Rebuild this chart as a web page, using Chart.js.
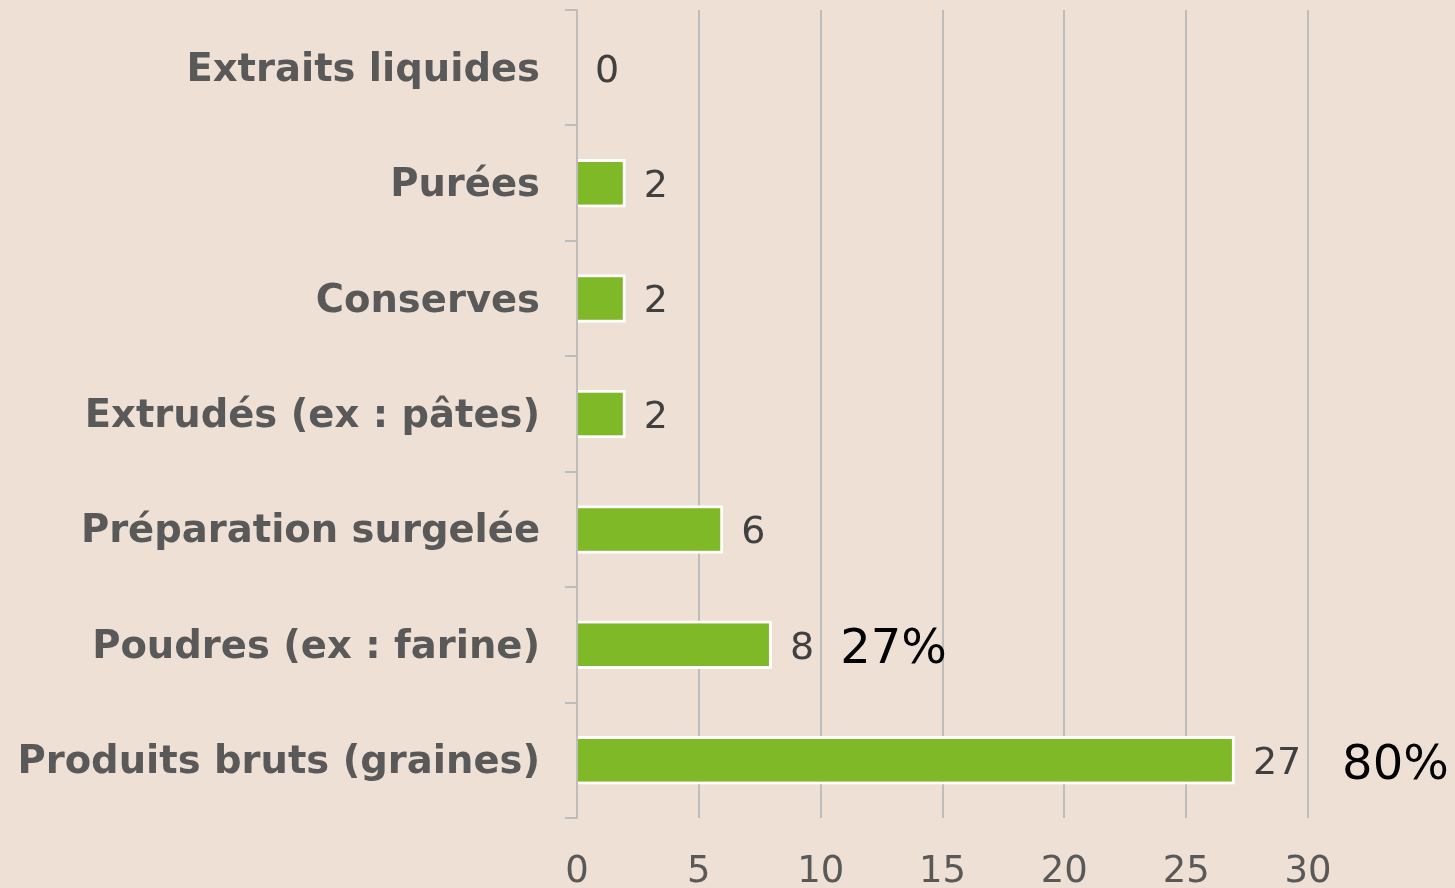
<!DOCTYPE html>
<html>
<head>
<meta charset="utf-8">
<script src="https://cdn.jsdelivr.net/npm/chart.js@4"></script>
<style>
  html, body { margin: 0; padding: 0; background: #EEE0D4; }
  #wrap { width: 1455px; height: 888px; position: relative; }
</style>
</head>
<body>
<div id="wrap"><canvas id="c" width="1455" height="888"></canvas></div>
<script>
const categories = [
  'Extraits liquides',
  'Purées',
  'Conserves',
  'Extrudés (ex : pâtes)',
  'Préparation surgelée',
  'Poudres (ex : farine)',
  'Produits bruts (graines)'
];
const values = [0, 2, 2, 2, 6, 8, 27];
const xTicks = [0, 5, 10, 15, 20, 25, 30];
const shareLabels = ['27%', '80%'];
const shareCategories = ['Poudres (ex : farine)', 'Produits bruts (graines)'];
const shareXValues = [10.8, 31.4];

const FONT = "'DejaVu Sans', Verdana, sans-serif";

const labelPlugin = {
  id: 'labels',
  afterDatasetsDraw(chart) {
    const ctx = chart.ctx;
    const xs = chart.scales.x, ys = chart.scales.y;
    ctx.save();
    ctx.font = '38px ' + FONT;
    ctx.fillStyle = '#404040';
    ctx.textAlign = 'left';
    ctx.textBaseline = 'middle';
    const meta = chart.getDatasetMeta(0);
    meta.data.forEach((bar, i) => {
      const x = xs.getPixelForValue(values[i]) + 18;
      ctx.fillText(String(values[i]), x, bar.y + 4);
    });
    ctx.font = '48px ' + FONT;
    ctx.fillStyle = '#000000';
    shareLabels.forEach((t, i) => {
      const idx = categories.indexOf(shareCategories[i]);
      const y = ys.getPixelForValue(idx);
      ctx.fillText(t, xs.getPixelForValue(shareXValues[i]), y + 6);
    });
    ctx.restore();
  }
};

new Chart(document.getElementById('c'), {
  type: 'bar',
  data: {
    labels: categories,
    datasets: [{
      data: values,
      backgroundColor: '#80B927',
      borderColor: '#FFFFFF',
      borderWidth: 3,
      barPercentage: 0.42,
      categoryPercentage: 1
    }]
  },
  options: {
    indexAxis: 'y',
    responsive: false,
    animation: false,
    layout: { padding: { top: 10, right: 147, left: 0, bottom: 0 } },
    plugins: { legend: { display: false }, tooltip: { enabled: false } },
    scales: {
      x: {
        type: 'linear',
        min: 0, max: 30,
        afterBuildTicks: s => { s.ticks = xTicks.map(v => ({ value: v })); },
        afterFit: s => { s.height = 70; s.paddingLeft = 0; s.paddingRight = 0; },
        border: { display: false },
        grid: { color: '#BDBDBD', lineWidth: 2, drawTicks: false, tickLength: 0 },
        ticks: { color: '#595959', font: { family: FONT, size: 37 }, padding: 32 }
      },
      y: {
        type: 'category',
        afterFit: s => { s.width = 577; s.paddingTop = 0; s.paddingBottom = 0; },
        border: { display: true, color: '#BDBDBD', width: 2 },
        grid: { offset: true, drawOnChartArea: false, drawTicks: true, tickLength: 12, color: '#BDBDBD', lineWidth: 2 },
        ticks: { color: '#595959', font: { family: FONT, size: 38.5, weight: 'bold' }, padding: 25, labelOffset: 3 }
      }
    }
  },
  plugins: [labelPlugin]
});
</script>
</body>
</html>
